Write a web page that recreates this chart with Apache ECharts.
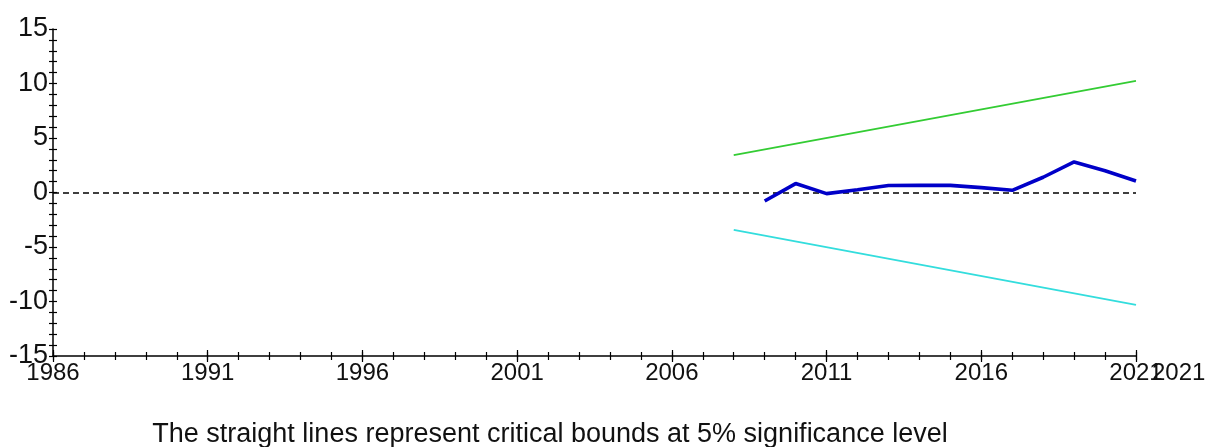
<!DOCTYPE html>
<html>
<head>
<meta charset="utf-8">
<script src="https://cdn.jsdelivr.net/npm/echarts@6/dist/echarts.min.js"></script>
<style>
html,body{margin:0;padding:0;background:#fff;}
#chart{width:1217px;height:447px;}
</style>
</head>
<body>
<div id="chart"></div>
<script>
// ---- data ----
var years = [];
for (var y = 1986; y <= 2021; y++) years.push(String(y));
var cusumYears = ['2009','2010','2011','2012','2013','2014','2015','2016','2017','2018','2019','2020','2021'];
var cusumValues = [-0.78, 0.82, -0.10, 0.25, 0.64, 0.65, 0.65, 0.45, 0.20, 1.40, 2.80, 2.00, 1.06];
var boundYears = ['2008', '2021'];
var upperBound = [3.42, 10.25];
var lowerBound = [-3.42, -10.30];
var yTicks = [-15, -10, -5, 0, 5, 10, 15];
var caption = 'The straight lines represent critical bounds at 5% significance level';

function pairs(xs, vs) { return xs.map(function (x, i) { return [x, vs[i]]; }); }

var FONT = 'Liberation Sans, Arial, sans-serif';
var grid = { left: 53, right: 81, top: 29, bottom: 91 };

function xAx(opts) {
  var base = {
    type: 'category', data: years, boundaryGap: false, gridIndex: 0, position: 'bottom',
    axisLine: { show: false, onZero: false }, axisLabel: { show: false }, splitLine: { show: false },
    axisTick: { show: true, lineStyle: { color: '#000', width: 1.2 } }
  };
  return echarts.util.merge(base, opts, true);
}

var option = {
  backgroundColor: '#fff',
  animation: false,
  title: {
    text: caption, left: 545, top: 416, textAlign: 'center',
    textStyle: { fontFamily: FONT, fontSize: 27, fontWeight: 'normal', color: '#111' }
  },
  grid: grid,
  xAxis: [
    xAx({
      axisLine: { show: true, onZero: false, lineStyle: { color: '#000', width: 1.5 } },
      axisTick: { interval: 4, length: 6, inside: false },
      axisLabel: { show: true, interval: 4, margin: 5, fontFamily: FONT, fontSize: 24, color: '#111' }
    }),
    xAx({ axisTick: { interval: 4, length: 6, inside: true } }),
    xAx({ axisTick: { interval: 0, length: 4, inside: false } }),
    xAx({ axisTick: { interval: 0, length: 4, inside: true } })
  ],
  yAxis: [
    {
      type: 'value', min: -15, max: 15, interval: 5,
      axisLine: { show: true, onZero: false, lineStyle: { color: '#000', width: 1.5 } },
      axisTick: { show: true, length: 4, inside: false, lineStyle: { color: '#000', width: 1.2 } },
      minorTick: { show: true, splitNumber: 5, length: 4, lineStyle: { color: '#000', width: 1.2 } },
      axisLabel: {
        margin: 5, fontFamily: FONT, fontSize: 27, color: '#111',
        formatter: function (v) { return yTicks.indexOf(v) >= 0 ? String(v) : ''; }
      },
      splitLine: { show: false }
    },
    {
      type: 'value', min: -15, max: 15, interval: 5, position: 'left',
      axisLine: { show: false, onZero: false },
      axisTick: { show: true, length: 4, inside: true, lineStyle: { color: '#000', width: 1.2 } },
      minorTick: { show: true, splitNumber: 5, length: 4, lineStyle: { color: '#000', width: 1.2 } },
      axisLabel: { show: false },
      splitLine: { show: false }
    }
  ],
  series: [
    {
      name: 'CUSUM', type: 'line', xAxisIndex: 0, yAxisIndex: 0,
      data: pairs(cusumYears, cusumValues), symbol: 'none',
      lineStyle: { color: '#0000c8', width: 3.6 }, z: 5,
      markLine: {
        silent: true, symbol: 'none', label: { show: false },
        lineStyle: { color: '#000', type: [6, 4], width: 1.5 },
        data: [{ yAxis: 0 }]
      }
    },
    {
      name: 'Upper', type: 'line', xAxisIndex: 0, yAxisIndex: 0,
      data: pairs(boundYears, upperBound), symbol: 'none',
      lineStyle: { color: '#33cc33', width: 1.8 }
    },
    {
      name: 'Lower', type: 'line', xAxisIndex: 0, yAxisIndex: 0,
      data: pairs(boundYears, lowerBound), symbol: 'none',
      lineStyle: { color: '#33dddd', width: 1.8 }
    }
  ]
};

var chart = echarts.init(document.getElementById('chart'), null, { renderer: 'canvas' });
chart.setOption(option);
// duplicated last label as in the original figure
var px = chart.convertToPixel({ xAxisIndex: 0 }, '2021');
chart.setOption({
  graphic: [{
    type: 'text', left: px + 16, top: 356 + 5,
    style: { text: '2021', font: '24px ' + FONT, fill: '#111' }
  }]
});
</script>
</body>
</html>
